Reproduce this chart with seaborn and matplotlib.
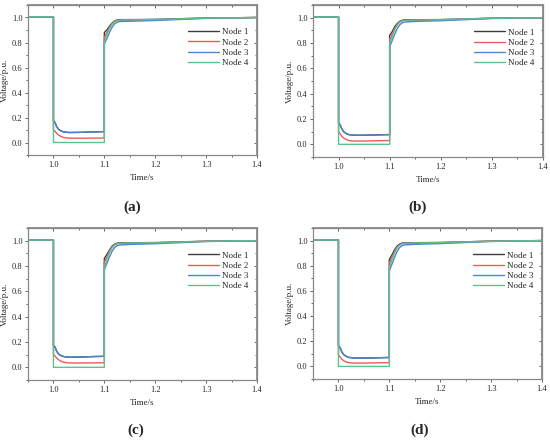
import numpy as np
import pandas as pd
import matplotlib
matplotlib.use("Agg")
import matplotlib.pyplot as plt
from matplotlib.ticker import AutoMinorLocator, MultipleLocator, NullFormatter
import seaborn as sns

sns.set_theme(style="white")
plt.rcParams['font.family'] = ['Liberation Serif', 'DejaVu Serif']

time = [0.95, 1.0, 1.0, 1.003, 1.006, 1.01, 1.015, 1.02, 1.03, 1.05, 1.07, 1.1,
        1.1, 1.105, 1.11, 1.115, 1.12, 1.125, 1.13, 1.15, 1.2, 1.3, 1.4]
nodes = ["Node 1", "Node 2", "Node 3", "Node 4"]
panel_labels = ["a", "b", "c", "d"]

# Panel (a)
a_node1 = [1.005, 1.005, 0.175, 0.16, 0.13, 0.105, 0.092, 0.085, 0.080, 0.081, 0.084, 0.087,
           0.88, 0.90, 0.93, 0.955, 0.972, 0.980, 0.983, 0.983, 0.985, 0.996, 1.0]
a_node2 = [1.005, 1.005, 0.10, 0.09, 0.075, 0.06, 0.048, 0.040, 0.035, 0.034, 0.035, 0.036,
           0.84, 0.88, 0.92, 0.95, 0.968, 0.976, 0.978, 0.978, 0.982, 0.995, 1.0]
a_node3 = [1.005, 1.005, 0.175, 0.16, 0.13, 0.105, 0.092, 0.085, 0.080, 0.081, 0.084, 0.087,
           0.79, 0.83, 0.88, 0.92, 0.948, 0.962, 0.968, 0.970, 0.976, 0.993, 1.0]
a_node4 = [1.005, 1.005, 0.0, 0.0, 0.0, 0.0, 0.0, 0.0, 0.0, 0.0, 0.0, 0.0,
           0.80, 0.86, 0.91, 0.945, 0.965, 0.975, 0.980, 0.981, 0.984, 0.995, 1.0]
# Panel (b)
b_node1 = [1.005, 1.005, 0.17, 0.155, 0.125, 0.10, 0.085, 0.077, 0.072, 0.072, 0.074, 0.077,
           0.86, 0.89, 0.93, 0.955, 0.972, 0.980, 0.983, 0.983, 0.985, 0.996, 1.0]
b_node2 = [1.005, 1.005, 0.10, 0.085, 0.065, 0.05, 0.038, 0.030, 0.026, 0.026, 0.028, 0.030,
           0.83, 0.87, 0.915, 0.948, 0.968, 0.976, 0.978, 0.978, 0.982, 0.995, 1.0]
b_node3 = [1.005, 1.005, 0.17, 0.155, 0.125, 0.10, 0.085, 0.077, 0.072, 0.072, 0.074, 0.077,
           0.77, 0.82, 0.87, 0.915, 0.945, 0.960, 0.966, 0.970, 0.976, 0.993, 1.0]
b_node4 = [1.005, 1.005, 0.0, 0.0, 0.0, 0.0, 0.0, 0.0, 0.0, 0.0, 0.0, 0.0,
           0.79, 0.85, 0.905, 0.943, 0.965, 0.975, 0.980, 0.981, 0.984, 0.995, 1.0]
# Panel (c)
c_node1 = [1.005, 1.005, 0.175, 0.16, 0.13, 0.105, 0.092, 0.085, 0.080, 0.081, 0.084, 0.087,
           0.86, 0.89, 0.925, 0.955, 0.972, 0.980, 0.983, 0.983, 0.985, 0.996, 1.0]
c_node2 = [1.005, 1.005, 0.10, 0.09, 0.075, 0.06, 0.048, 0.040, 0.035, 0.034, 0.035, 0.036,
           0.83, 0.87, 0.915, 0.948, 0.968, 0.976, 0.978, 0.978, 0.982, 0.995, 1.0]
c_node3 = [1.005, 1.005, 0.175, 0.16, 0.13, 0.105, 0.092, 0.085, 0.080, 0.081, 0.084, 0.087,
           0.77, 0.82, 0.87, 0.915, 0.945, 0.960, 0.966, 0.970, 0.976, 0.993, 1.0]
c_node4 = [1.005, 1.005, 0.0, 0.0, 0.0, 0.0, 0.0, 0.0, 0.0, 0.0, 0.0, 0.0,
           0.79, 0.85, 0.905, 0.943, 0.965, 0.975, 0.980, 0.981, 0.984, 0.995, 1.0]
# Panel (d)
d_node1 = [1.005, 1.005, 0.165, 0.15, 0.12, 0.095, 0.080, 0.072, 0.067, 0.066, 0.068, 0.071,
           0.85, 0.885, 0.925, 0.955, 0.972, 0.980, 0.983, 0.983, 0.985, 0.996, 1.0]
d_node2 = [1.005, 1.005, 0.09, 0.078, 0.06, 0.046, 0.036, 0.030, 0.027, 0.027, 0.028, 0.030,
           0.82, 0.865, 0.912, 0.946, 0.967, 0.976, 0.978, 0.978, 0.982, 0.995, 1.0]
d_node3 = [1.005, 1.005, 0.165, 0.15, 0.12, 0.095, 0.080, 0.072, 0.067, 0.066, 0.068, 0.071,
           0.76, 0.81, 0.865, 0.912, 0.944, 0.960, 0.966, 0.970, 0.976, 0.993, 1.0]
d_node4 = [1.005, 1.005, 0.0, 0.0, 0.0, 0.0, 0.0, 0.0, 0.0, 0.0, 0.0, 0.0,
           0.78, 0.845, 0.90, 0.94, 0.963, 0.974, 0.980, 0.981, 0.984, 0.995, 1.0]

panels = {
    "a": [a_node1, a_node2, a_node3, a_node4],
    "b": [b_node1, b_node2, b_node3, b_node4],
    "c": [c_node1, c_node2, c_node3, c_node4],
    "d": [d_node1, d_node2, d_node3, d_node4],
}

palette = {"Node 1": "#3c3c3c", "Node 2": "#ee5a5a", "Node 3": "#4a86d0", "Node 4": "#5cc28c"}

fig = plt.figure(figsize=(5.5, 4.4), dpi=100)
W, H = 550, 440
boxes = {
    "a": (28, 257, 5, 155),
    "b": (313, 543, 5, 157),
    "c": (28, 257, 228, 380),
    "d": (313, 542, 228, 379),
}
label_pos = {"a": (132, 207), "b": (418, 207), "c": (136, 430), "d": (420, 430)}
TC = "#666666"

for p in panel_labels:
    l, r, t, b = boxes[p]
    ax = fig.add_axes([l / W, 1 - b / H, (r - l) / W, (b - t) / H])
    rows = []
    for name, vals in zip(nodes, panels[p]):
        for tt, vv in zip(time, vals):
            rows.append({"Time": tt, "Voltage": vv, "Node": name})
    df = pd.DataFrame(rows)
    sns.lineplot(data=df, x="Time", y="Voltage", hue="Node", palette=palette,
                 estimator=None, sort=False, units="Node", lw=1.0, ax=ax)
    ax.set_xlim(0.95, 1.4)
    ax.set_ylim(-0.1, 1.1)
    ax.xaxis.set_major_locator(MultipleLocator(0.1))
    ax.yaxis.set_major_locator(MultipleLocator(0.2))
    ax.xaxis.set_minor_locator(AutoMinorLocator(2))
    ax.yaxis.set_minor_locator(AutoMinorLocator(2))
    ax.tick_params(which="both", direction="out", bottom=True, left=True,
                   labelsize=6, color=TC, pad=1.5, width=0.7)
    ax.tick_params(which="major", length=2.5)
    ax.tick_params(which="minor", length=1.5)
    # mirrored inward ticks on top/right
    sx = ax.secondary_xaxis("top")
    sx.xaxis.set_major_locator(MultipleLocator(0.1))
    sx.xaxis.set_minor_locator(AutoMinorLocator(2))
    sx.xaxis.set_major_formatter(NullFormatter())
    sx.tick_params(which="both", direction="in", color=TC, width=0.7)
    sx.tick_params(which="major", length=2.5)
    sx.tick_params(which="minor", length=1.5)
    sx.spines["top"].set_color("#888888")
    sy = ax.secondary_yaxis("right")
    sy.yaxis.set_major_locator(MultipleLocator(0.2))
    sy.yaxis.set_minor_locator(AutoMinorLocator(2))
    sy.yaxis.set_major_formatter(NullFormatter())
    sy.tick_params(which="both", direction="in", color=TC, width=0.7)
    sy.tick_params(which="major", length=2.5)
    sy.tick_params(which="minor", length=1.5)
    sy.spines["right"].set_color("#888888")
    for s in ax.spines.values():
        s.set_color("#888888")
        s.set_linewidth(0.9)
    ax.set_xlabel("Time/s", fontsize=6.5, labelpad=4)
    ax.set_ylabel("Voltage/p.u.", fontsize=6.5, labelpad=2)
    ax.legend(loc="upper right", bbox_to_anchor=(1.0, 0.9), frameon=False,
              fontsize=6.5, handlelength=3.4, labelspacing=0.2, handletextpad=0.4)
    lx, ly = label_pos[p]
    fig.text(lx / W, 1 - ly / H, f"({p})", ha="center", va="center",
             fontsize=11, fontweight="bold")

fig.savefig("out.png", dpi=100)
